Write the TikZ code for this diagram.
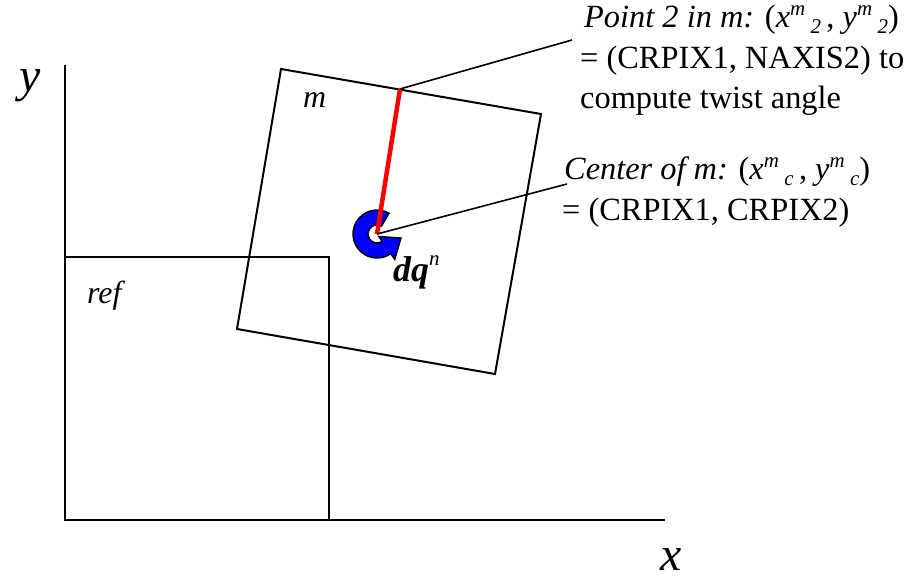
\documentclass[tikz,border=0pt]{standalone}
\usepackage{fontspec}
\setmainfont{Liberation Serif}
\newcommand\mysup[1]{\raisebox{.40em}{\fontsize{21}{21}\selectfont\itshape #1}}
\newcommand\mysub[1]{\raisebox{-.18em}{\fontsize{21}{21}\selectfont\itshape #1}}
\begin{document}
\begin{tikzpicture}[x=1bp,y=-1bp,
  edge/.style={line width=2bp, black},
  leader/.style={line width=1.6bp, black},
  lbl/.style={inner sep=0pt, anchor=base west, font=\fontsize{32.5}{38}\selectfont},
  axlbl/.style={inner sep=0pt, font=\fontsize{48}{52}\selectfont\itshape}]
\useasboundingbox (0,0) rectangle (910,583);
% coordinates
\coordinate (yt) at (65,65);
\coordinate (o) at (65,520);
\coordinate (xr) at (665,520);
\coordinate (rt) at (65,257);
\coordinate (rtr) at (329,257);
\coordinate (rbr) at (329,520);
\coordinate (m1) at (281,69);
\coordinate (m2) at (541,114);
\coordinate (m3) at (495,374);
\coordinate (m4) at (237,329);
\coordinate (p2) at (400,89);
\coordinate (c) at (377,234);
\coordinate (p2end) at (572,40);
\coordinate (cend) at (567,184);
\coordinate (tip) at (401,238);
% axes and boxes
\draw[edge] (yt) -- (o) -- (xr);
\draw[edge] (rt) -- (rtr) -- (rbr);
\draw[edge] (m1) -- (m2) -- (m3) -- (m4) -- cycle;
% rotation arrow
\filldraw[fill=blue, draw=black, line width=1.4bp, line join=miter]
  ([shift={(c)}] -60:24) arc[start angle=-60, end angle=-305, radius=24]
  -- ([shift={(c)}] -305:31) -- (tip) -- ([shift={(c)}] -305:3)
  -- ([shift={(c)}] -305:9) arc[start angle=-305, end angle=-60, radius=9]
  -- cycle;
% red line
\draw[red, line width=4.5bp] (p2) -- (c);
% leaders
\draw[leader] (p2) -- (p2end);
\draw[leader] (c) -- (cend);
% labels
\node[axlbl] (ylab) at (30,86) {y};
\node[axlbl] (xlab) at (671,560) {x};
\node[lbl, font=\fontsize{32}{36}\selectfont\itshape] (ref) at (87,303) {ref};
\node[lbl, font=\fontsize{32}{36}\selectfont\itshape] (mlab) at (303,108) {m};
\node[lbl, font=\fontsize{36}{40}\selectfont] (dq) at (393,281) {\textbf{\textit{dq}}\raisebox{.42em}{\fontsize{21}{21}\selectfont\itshape n}};
\node[lbl] (pa) at (584,28) {\textit{Point 2 in m:} (\textit{x}\mysup{m}\,\mysub{2}\,, \textit{y}\mysup{m}\,\mysub{2})};
\node[lbl] (pb) at (580,69) {= (CRPIX1, NAXIS2) to};
\node[lbl] (pc) at (580,109) {compute twist angle};
\node[lbl] (ca) at (564,180) {\textit{Center of m:} (\textit{x}\mysup{m}\,\mysub{c}\,, \textit{y}\mysup{m}\,\mysub{c})};
\node[lbl] (cb) at (562,221) {= (CRPIX1, CRPIX2)};
\end{tikzpicture}
\end{document}
